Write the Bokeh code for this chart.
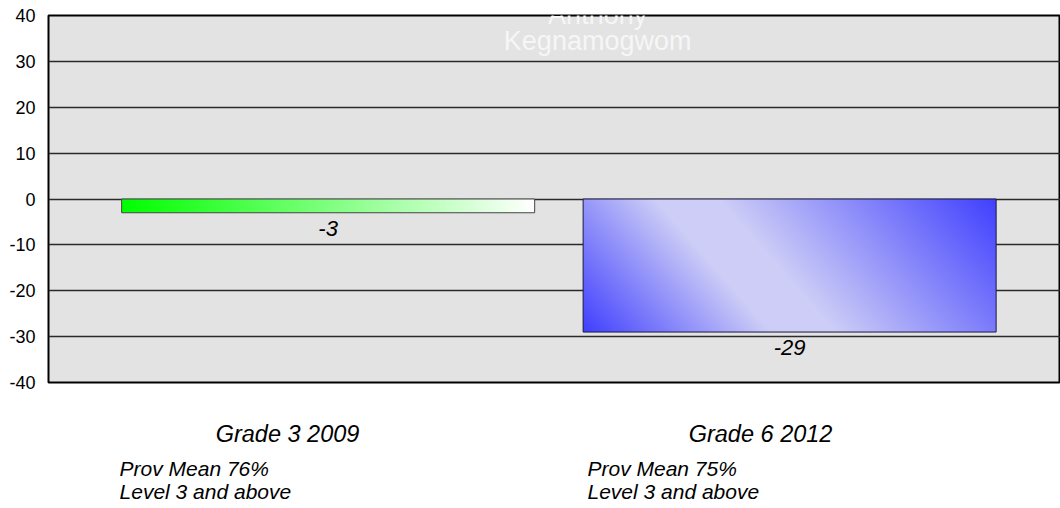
import numpy as np
from bokeh.plotting import figure
from bokeh.layouts import column
from bokeh.models import Label, FixedTicker, Range1d, NumeralTickFormatter
from bokeh.core.properties import value
from bokeh.embed import file_html
from bokeh.resources import INLINE

# ---- data ----
categories = ["Grade 3 2009", "Grade 6 2012"]
values = [-3, -29]
value_labels = ["-3", "-29"]
sub_line1 = ["Prov  Mean 76%", "Prov Mean 75%"]
sub_line2 = ["Level 3 and above", "Level 3 and above"]
y_ticks = [-40, -30, -20, -10, 0, 10, 20, 30, 40]
title_lines = ["Anthony", "Kegnamogwom"]

# ---- style ----
FONT = "Liberation Sans"
positions = [i + 1 for i in range(len(categories))]
bar_w = 0.895
grade_dx = [-0.088, -0.063]   # horizontal offsets of the category captions
note_dx = [-0.452, -0.438]    # left edge offsets of the note lines

p = figure(width=1060, height=394, output_backend="svg", toolbar_location=None,
           x_range=Range1d(0.394, 2.587), y_range=Range1d(-40, 40),
           min_border_left=48, min_border_right=0, min_border_top=15, min_border_bottom=12)
p.background_fill_color = "#e3e3e3"
p.border_fill_color = "white"
p.outline_line_color = "black"
p.outline_line_width = 2

p.xaxis.visible = False
p.xgrid.visible = False
yax = p.yaxis[0]
yax.ticker = FixedTicker(ticks=y_ticks)
yax.formatter = NumeralTickFormatter(format="0")
yax.axis_line_color = None
yax.major_tick_line_color = None
yax.minor_tick_line_color = None
yax.major_tick_in = 0
yax.major_tick_out = 0
yax.major_label_standoff = 13
yax.major_label_text_font = FONT
yax.major_label_text_font_size = "18px"
yax.major_label_text_color = "black"
p.ygrid.ticker = FixedTicker(ticks=y_ticks)
p.ygrid.grid_line_color = "#2a2a2a"
p.ygrid.grid_line_width = 1.3


def green_grad(ny=16, nx=420):
    u = (np.arange(nx) + 0.5) / nx
    img = np.zeros((ny, nx, 4), dtype=np.uint8)
    r = (255 * u).astype(np.uint8)
    img[:, :, 0] = r[None, :]
    img[:, :, 1] = 255
    img[:, :, 2] = r[None, :]
    img[:, :, 3] = 255
    return img.view(np.uint32).reshape(ny, nx)


def blue_grad(ny=133, nx=413):
    u = (np.arange(nx) + 0.5) / nx
    v = 1 - (np.arange(ny) + 0.5) / ny  # row 0 at bottom
    U, V = np.meshgrid(u, v)
    px, py = U * 413, V * 133
    d = ((px - 103) * 133 - py * 117) / 177.0
    w = 25.0
    t = np.where(d < 0, (-d - w) / (165 - w), (d - w) / (233 - w))
    t = np.clip(t, 0, 1)
    light = np.array([205, 205, 247])
    deep = np.array([64, 64, 255])
    col = light[None, None, :] * (1 - t[..., None]) + deep[None, None, :] * t[..., None]
    img = np.zeros((ny, nx, 4), dtype=np.uint8)
    img[:, :, :3] = col.astype(np.uint8)
    img[:, :, 3] = 255
    return img.view(np.uint32).reshape(ny, nx)


grads = [green_grad(), blue_grad()]
outline_cols = ["#444444", "#1a1a40"]
for pos, val, g, oc in zip(positions, values, grads, outline_cols):
    p.image_rgba(image=[g], x=pos - bar_w / 2, y=min(0, val), dw=bar_w, dh=abs(val))
    p.vbar(x=[pos], top=[0], bottom=[val], width=bar_w, fill_color=None,
           line_color=oc, line_width=1)

# value labels
for pos, val, txt in zip(positions, values, value_labels):
    p.add_layout(Label(x=pos, y=val - 3.4, text=txt, text_align="center",
                       text_baseline="middle", text_font=FONT, text_font_size="22px",
                       text_font_style="italic", text_color="black"))

# title (white text)
p.add_layout(Label(x=1.584, y=40.2, text=title_lines[0], text_align="center",
                   text_baseline="middle", text_font=FONT, text_font_size="27px",
                   text_color="#f6f6f6"))
p.add_layout(Label(x=1.584, y=34.5, text=title_lines[1], text_align="center",
                   text_baseline="middle", text_font=FONT, text_font_size="27px",
                   text_color="#f6f6f6"))

# category captions in a strip below the plot (shares the x scale)
p2 = figure(width=1060, height=114, output_backend="svg", toolbar_location=None,
            x_range=p.x_range, y_range=Range1d(114, 0),
            min_border_left=48, min_border_right=0, min_border_top=0, min_border_bottom=0)
p2.axis.visible = False
p2.grid.visible = False
p2.outline_line_color = None
p2.background_fill_color = "white"
p2.border_fill_color = "white"

n = len(positions)
p2.text(x=[x + d for x, d in zip(positions, grade_dx)], y=[39] * n, text=categories,
        text_align="center", text_baseline="middle", text_font=value(FONT),
        text_font_size="23.5px", text_font_style="italic", text_color="black")
p2.text(x=[x + d for x, d in zip(positions, note_dx)], y=[74] * n, text=sub_line1,
        text_align="left", text_baseline="middle", text_font=value(FONT),
        text_font_size="21px", text_font_style="italic", text_color="black")
p2.text(x=[x + d for x, d in zip(positions, note_dx)], y=[97] * n, text=sub_line2,
        text_align="left", text_baseline="middle", text_font=value(FONT),
        text_font_size="21px", text_font_style="italic", text_color="black")

layout = column(p, p2, spacing=0)
open("out.html", "w").write(file_html(layout, INLINE))
